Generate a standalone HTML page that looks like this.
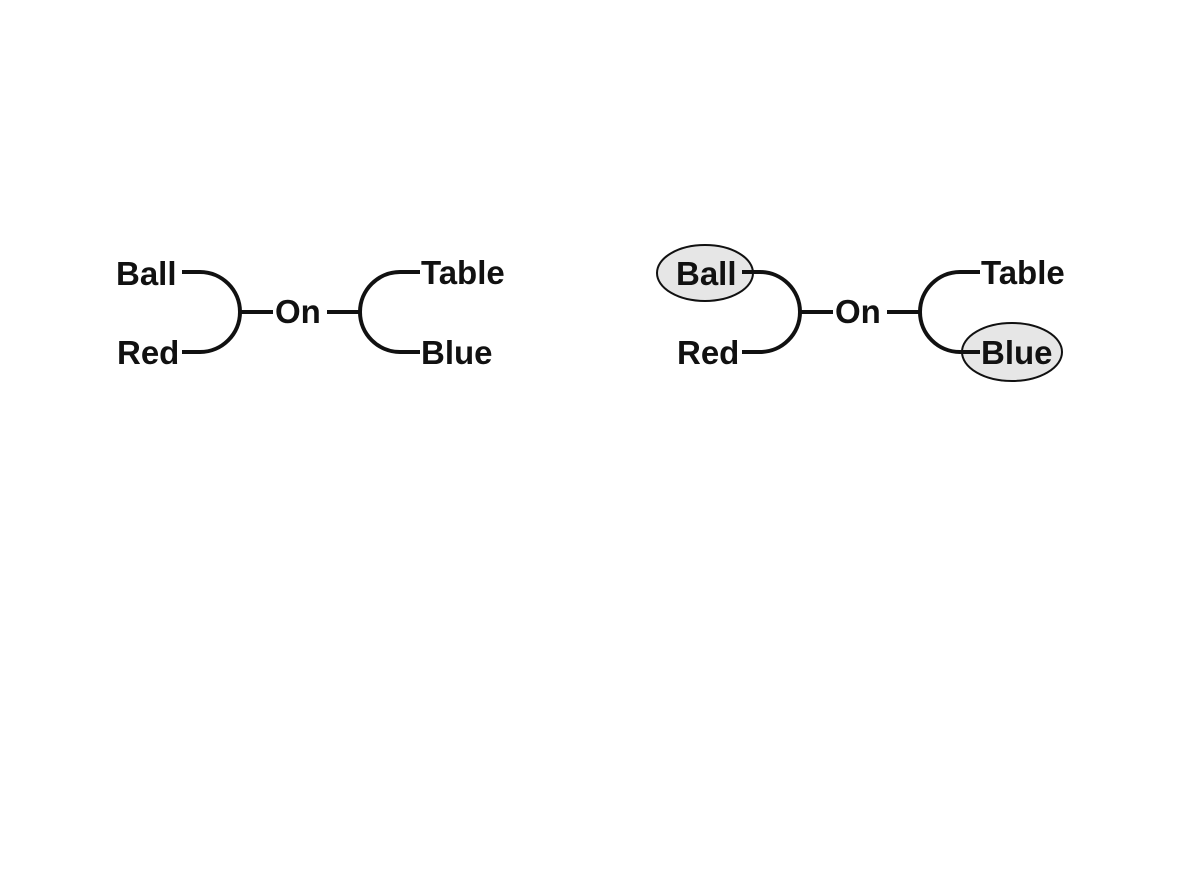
<!DOCTYPE html>
<html><head><style>
html,body{margin:0;padding:0;background:#fff;}
text{font-family:"Liberation Sans",Arial,sans-serif;font-weight:bold;font-size:33px;fill:#111;}
</style></head><body>
<svg width="1177" height="883" viewBox="0 0 1177 883" xmlns="http://www.w3.org/2000/svg">
<g id="d">
<path d="M182,272 H200 C222,272 240,290 240,312 C240,334 222,352 200,352 H182" fill="none" stroke="#111" stroke-width="4"/>
<line x1="240" y1="312" x2="273" y2="312" stroke="#111" stroke-width="4"/>
<line x1="327" y1="312" x2="360" y2="312" stroke="#111" stroke-width="4"/>
<path d="M420,272 H400 C378,272 360,290 360,312 C360,334 378,352 400,352 H420" fill="none" stroke="#111" stroke-width="4"/>
</g>
<text x="116" y="285">Ball</text>
<text x="117" y="364">Red</text>
<text x="275" y="323">On</text>
<text x="421" y="284">Table</text>
<text x="421" y="364">Blue</text>

<ellipse cx="705" cy="273" rx="48" ry="28" fill="#e6e6e6" stroke="#111" stroke-width="2"/>
<ellipse cx="1012" cy="352" rx="50" ry="29" fill="#e6e6e6" stroke="#111" stroke-width="2"/>
<use href="#d" x="560" y="0"/>
<text x="676" y="285">Ball</text>
<text x="677" y="364">Red</text>
<text x="835" y="323">On</text>
<text x="981" y="284">Table</text>
<text x="981" y="364">Blue</text>
</svg>
</body></html>
